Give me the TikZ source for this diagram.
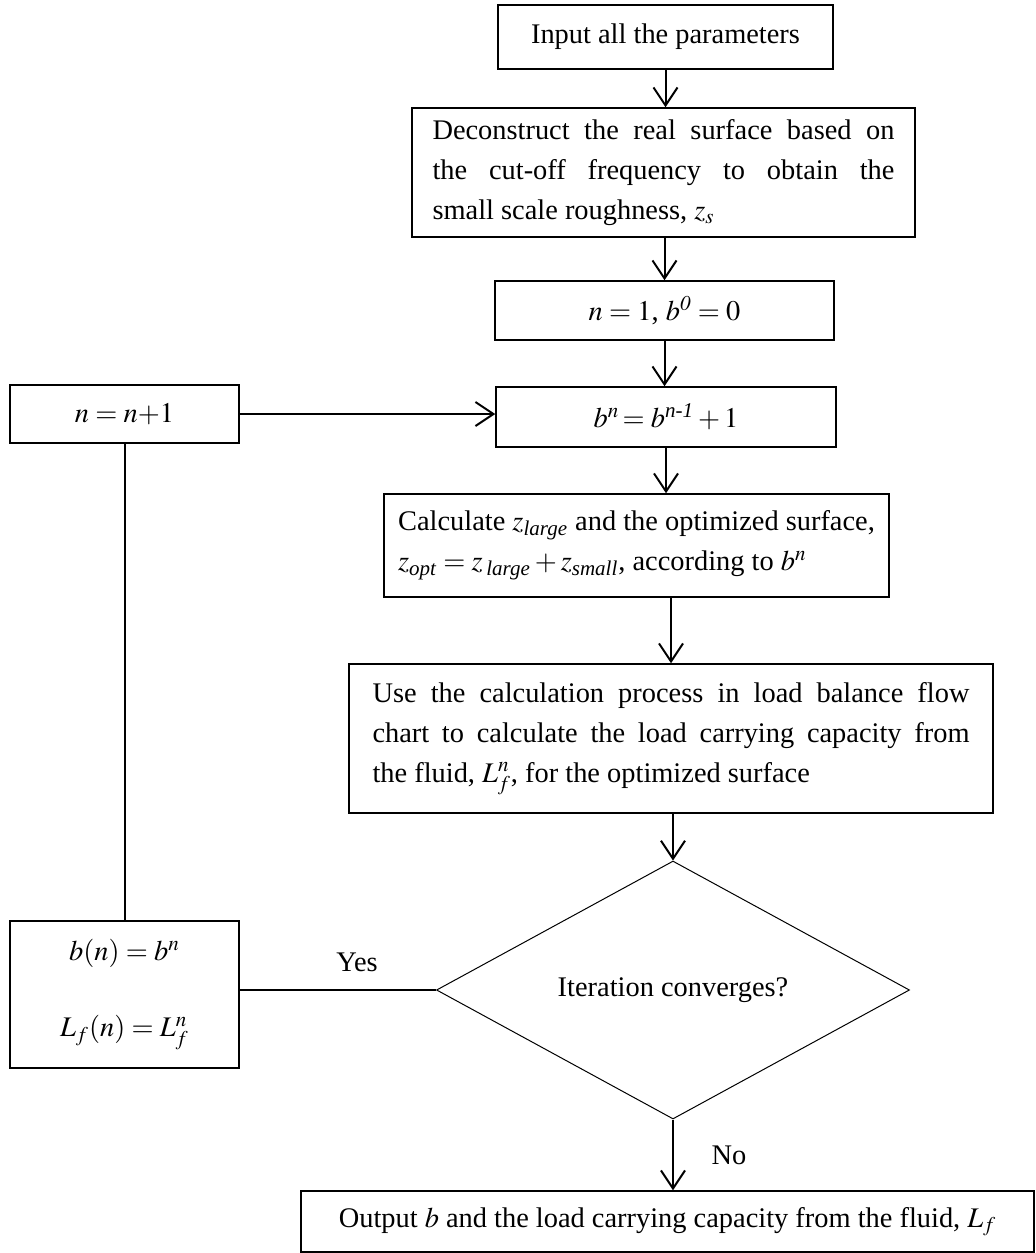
\documentclass[tikz,border=0pt]{standalone}
\usepackage{amsmath}
\usepackage{mathptmx}
\usepackage{fontspec}
\setmainfont{Liberation Serif}
\usetikzlibrary{shapes.geometric,arrows.meta}
\newlength\px
\setlength\px{0.5pt}
% italic word as a subscript
\newcommand\sbw[1]{_{\text{\itshape #1}}}

\begin{document}
\begin{tikzpicture}[
            x=0.5pt, y=-0.5pt,
            >={Straight Barb[length=9pt,width=12pt]},
            proc/.style={draw, rectangle, line width=0.75pt, inner sep=0pt,
                font=\fontsize{14.2}{20}\selectfont},
            sz/.style 2 args={minimum width=#1*0.5pt, minimum height=#2*0.5pt},
            decide/.style={draw, diamond, aspect=1.8, line width=0.5pt, inner sep=0pt,
                font=\fontsize{14.2}{20}\selectfont},
            lbl/.style={font=\fontsize{14.2}{20}\selectfont},
            flow/.style={line width=1pt}
        ]
           \useasboundingbox (0,0) rectangle (1036,1253);

           % main column
           \node[proc, sz={335}{64}] (inp) at (665.5,37) {Input all the parameters};
           \node[proc, sz={503}{129}, text width=462\px, align=justify] (decon) at (663.5,172.5)
               {Deconstruct the real surface based on\linebreak the cut-off frequency to obtain the\linebreak small scale roughness, $z_s$};
           \node[proc, sz={339}{59}] (init) at (664.5,310.5) {$n = 1$, $b^{\mathit{0}} = 0$};
           \node[proc, sz={340}{60}] (upd) at (666,417) {$b^{n}\!= b^{\text{\itshape n-1}} + 1$};
           \node[proc, sz={505}{103}, align=left] (surf) at (636.5,545.5)
               {Calculate $z\sbw{large}$ and the optimized surface,\\
                $z\sbw{opt} = z\sbw{\,large} + z\sbw{small}$, according to $b^n$\hspace{72pt}};
           \node[proc, sz={644}{149}, text width=597\px, align=justify] (load) at (671,738.5)
               {Use the calculation process in load balance flow\linebreak chart to calculate the load carrying capacity from\linebreak the fluid, $L_f^n$, for the optimized surface};
           \node[decide, sz={473}{258}] (conv) at (673,990) {Iteration converges?};
           \node[proc, sz={733}{61}] (out) at (667.5,1221.5)
               {Output $b$ and the load carrying capacity from the fluid, $L_f$};

           % loop back
           \node[proc, sz={229}{58}] (inc) at (124.5,414) {$n = n{+}1$};
           \node[proc, sz={229}{147}, align=center] (save) at (124.5,994.5)
               {$b(n) = b^n$ \\[18pt] $L_f(n) = L_f^n$};

           \draw[flow,->] (inp.south) -- (inp.south |- decon.north);
           \draw[flow,->] (init.north |- decon.south) -- (init.north);
           \draw[flow,->] (init.south) -- (init.south |- upd.north);
           \draw[flow,->] (upd.south) -- (upd.south |- surf.north);
           \draw[flow,->] (load.north |- surf.south) -- (load.north);
           \draw[flow,->] (conv.north |- load.south) -- (conv.north);
           \draw[flow,->] (conv.south) -- (conv.south |- out.north);
           \node[lbl] (no) at (729,1155) {No};

           \draw[flow] (conv.west) -- (conv.west -| save.east);
           \node[lbl] (yes) at (357,962) {Yes};
           \draw[flow] (save.north -| inc.south) -- (inc.south);
           \draw[flow,->] (inc.east) -- (inc.east -| upd.west);
        \end{tikzpicture}
\end{document}
